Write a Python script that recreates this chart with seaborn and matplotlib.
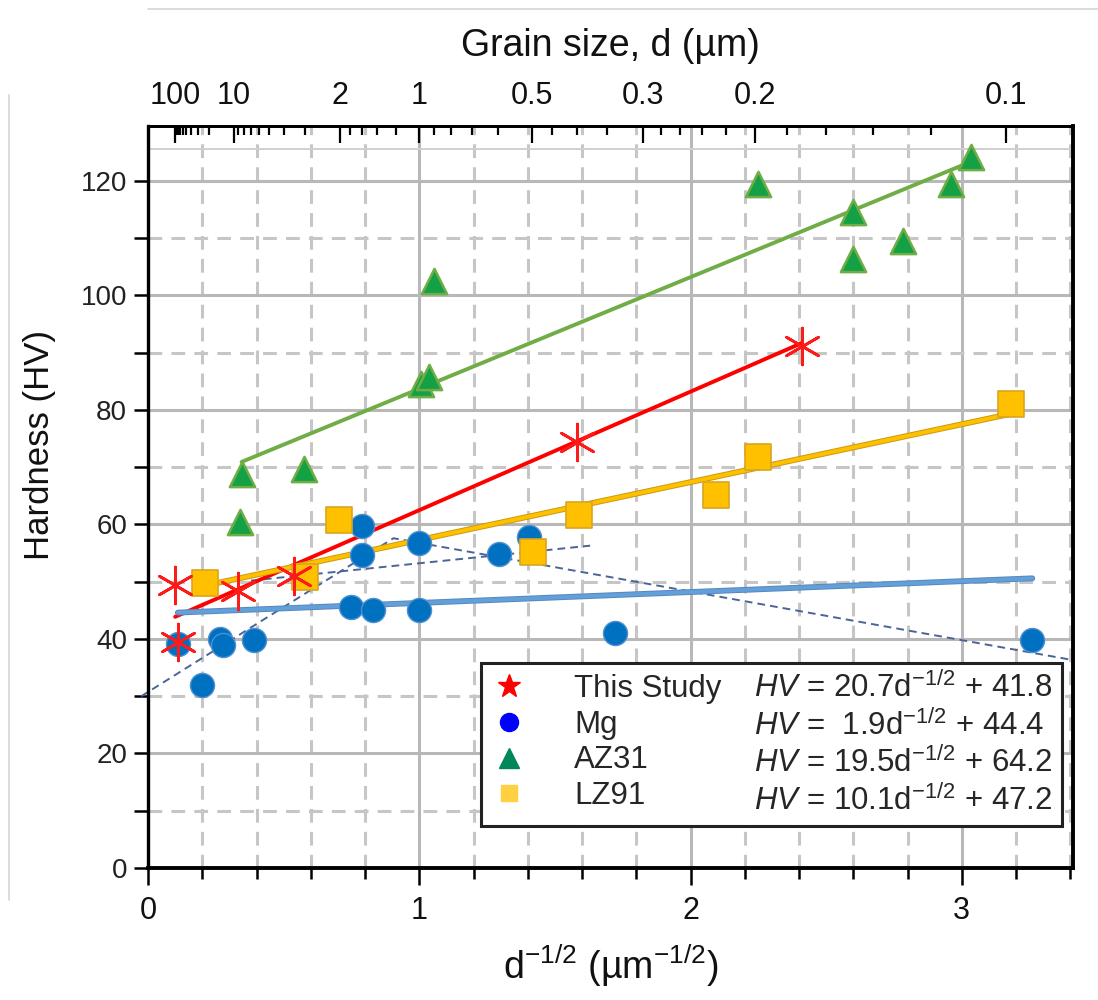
import numpy as np
import pandas as pd
import matplotlib
matplotlib.use("Agg")
import matplotlib.pyplot as plt
import matplotlib.patheffects as pe
from matplotlib.lines import Line2D
from matplotlib.ticker import MultipleLocator, FixedLocator
import seaborn as sns

# ---- data: x = d^-1/2 (um^-1/2), y = Vickers hardness (HV) ----
study_x = [0.10, 0.11, 0.33, 0.54, 1.58, 2.41]
study_y = [49.4, 39.5, 48.4, 51.0, 74.4, 91.1]

mg_x = [0.11, 0.20, 0.265, 0.275, 0.39, 0.75, 0.83, 1.00, 0.79, 0.79, 1.00, 1.295, 1.405, 1.72, 3.26]
mg_y = [39.2, 31.9, 40.0, 38.9, 39.9, 45.6, 45.0, 45.0, 59.8, 54.6, 56.7, 54.8, 57.8, 41.0, 39.8]

az31_x = [0.34, 0.345, 0.575, 1.005, 1.035, 1.055, 2.25, 2.60, 2.60, 2.785, 2.96, 3.035]
az31_y = [60.5, 68.8, 69.7, 84.6, 85.8, 102.6, 119.4, 114.5, 106.3, 109.5, 119.4, 124.2]

lz91_x = [0.21, 0.58, 0.705, 1.42, 1.59, 2.095, 2.25, 3.18]
lz91_y = [49.7, 50.9, 60.8, 55.2, 61.7, 65.1, 71.8, 81.0]

# Hall-Petch fits HV = k d^-1/2 + H0 and the span each fit covers
series_names = ["This Study", "Mg", "AZ31", "LZ91"]
fit_slope = [20.7, 1.9, 19.5, 10.1]
fit_icpt = [41.8, 44.4, 64.2, 47.2]
fit_x0 = [0.10, 0.11, 0.345, 0.21]
fit_x1 = [2.41, 3.26, 3.035, 3.18]

# dashed trend guides
guide_a_x = [-0.025, 0.905, 3.40]
guide_a_y = [30.0, 57.6, 36.4]
guide_b_x = [0.38, 1.63]
guide_b_y = [50.2, 56.3]

# top axis: grain size d (um)
d_major = [100, 10, 2, 1, 0.5, 0.3, 0.2, 0.1]
d_major_labels = ["100", "10", "2", "1", "0.5", "0.3", "0.2", "0.1"]
d_minor = [90, 80, 70, 60, 50, 40, 30, 20, 9, 8, 7, 6, 5, 4, 3,
           1.8, 1.6, 1.4, 1.2, 0.9, 0.8, 0.7, 0.6, 0.45, 0.4, 0.35,
           0.28, 0.26, 0.24, 0.22, 0.18, 0.16, 0.14, 0.12]

# ---- style ----
sns.set_theme(style="white")
plt.rcParams["font.family"] = ["Liberation Sans", "DejaVu Sans"]
plt.rcParams["mathtext.fontset"] = "custom"
plt.rcParams["mathtext.rm"] = "Liberation Sans"
plt.rcParams["mathtext.it"] = "Liberation Sans:italic"
plt.rcParams["mathtext.bf"] = "Liberation Sans:bold"

fig = plt.figure(figsize=(10.98, 10.0), dpi=100)
ax = fig.add_axes([0.1348, 0.132, 0.8424, 0.742])

XMAX, YMAX = 3.41, 129.6
ax.set_xlim(0, XMAX)
ax.set_ylim(0, YMAX)

# grid
ax.set_xticks([0, 1, 2, 3])
ax.xaxis.set_minor_locator(MultipleLocator(0.2))
ax.set_yticks(np.arange(0, 121, 20))
ax.yaxis.set_minor_locator(MultipleLocator(10))
ax.set_axisbelow(True)
ax.grid(which="major", color="#b8b8b8", lw=2.2, ls="-")
ax.grid(which="minor", color="#c6c6c6", lw=2.2, ls=(0, (4.5, 3)))
ax.axhline(125.5, color="#d0d0d0", lw=1.4, zorder=1)

# dashed guides
for gx, gy in ((guide_a_x, guide_a_y), (guide_b_x, guide_b_y)):
    ax.plot(gx, gy, color="#4a6497", lw=1.4, ls=(0, (4, 2.6)), zorder=2, clip_on=False)

# fitted lines
fit_colors = ["#ff0000", "#62a0da", "#70ad47", "#ffc000"]
fit_edges = [None, "#5a86bf", None, "#c99a10"]
for k, b, x0, x1, c, ec in zip(fit_slope, fit_icpt, fit_x0, fit_x1, fit_colors, fit_edges):
    xs = np.array([x0, x1])
    line_df = pd.DataFrame({"x": xs, "y": k * xs + b})
    effects = [pe.Stroke(linewidth=4.2, foreground=ec), pe.Normal()] if ec else None
    sns.lineplot(data=line_df, x="x", y="y", ax=ax, color=c, lw=2.8, zorder=3,
                 path_effects=effects, legend=False)

# data points
sns.scatterplot(x=mg_x, y=mg_y, ax=ax, marker="o", s=300, color="#0070c0",
                edgecolor="#4f8fd0", linewidth=1.0, zorder=4, legend=False)
sns.scatterplot(x=lz91_x, y=lz91_y, ax=ax, marker="s", s=330, color="#ffc000",
                edgecolor="#d9a520", linewidth=1.2, zorder=4, legend=False)
sns.scatterplot(x=az31_x, y=az31_y, ax=ax, marker="^", s=330, color="#14a044",
                edgecolor="#70ad47", linewidth=1.8, zorder=4, legend=False)
ax.scatter(study_x, study_y, marker=(6, 2, 0), s=700, color="#ff1a1a",
           linewidths=2.0, zorder=5)

# axes, ticks, labels
for side in ("left", "bottom", "right", "top"):
    ax.spines[side].set_visible(True)
    ax.spines[side].set_color("black")
ax.spines["left"].set_linewidth(2.4)
ax.spines["bottom"].set_linewidth(2.8)
ax.spines["right"].set_linewidth(2.8)
ax.spines["top"].set_linewidth(2.0)

ax.tick_params(axis="y", which="major", direction="out", length=10, width=1.8,
               labelsize=20, pad=5, left=True, color="black", labelcolor="#222222")
ax.tick_params(axis="y", which="minor", direction="out", length=10, width=1.8, left=True, color="black")
ax.tick_params(axis="x", which="major", direction="out", length=12, width=1.8,
               labelsize=22, pad=8, bottom=True, color="black", labelcolor="#111111")
ax.tick_params(axis="x", which="minor", direction="out", length=8, width=1.8, bottom=True, color="black")

ax.set_xlabel(r"d$^{-1/2}$ (µm$^{-1/2}$)", fontsize=27, labelpad=12, color="#111111")
ax.set_ylabel("Hardness (HV)", fontsize=25, color="#111111")
ax.yaxis.set_label_coords(-0.100, 0.57)

# top axis in grain size
ax2 = ax.twiny()
ax2.set_xlim(ax.get_xlim())
ax2.xaxis.set_major_locator(FixedLocator(np.array(d_major, dtype=float) ** -0.5))
ax2.set_xticklabels(d_major_labels)
ax2.xaxis.set_minor_locator(FixedLocator(np.array(d_minor, dtype=float) ** -0.5))
ax2.tick_params(axis="x", which="major", direction="in", length=12, width=1.6,
                labelsize=22, pad=11, top=True, color="black", labelcolor="#111111")
ax2.tick_params(axis="x", which="minor", direction="in", length=6.5, width=1.6, top=True, color="black")
ax2.set_xlabel("Grain size, d (µm)", fontsize=27, labelpad=18, color="#111111")
for side in ("left", "bottom", "right"):
    ax2.spines[side].set_visible(False)
ax2.spines["top"].set_linewidth(2.0)
ax2.spines["top"].set_color("black")
ax2.grid(False)

# legend: markers + names in one column, fit equations in the next
formulas = [r"$\mathit{HV}$ = 20.7d$^{-1/2}$ + 41.8",
            r"$\mathit{HV}$ =  1.9d$^{-1/2}$ + 44.4",
            r"$\mathit{HV}$ = 19.5d$^{-1/2}$ + 64.2",
            r"$\mathit{HV}$ = 10.1d$^{-1/2}$ + 47.2"]
handles = [
    Line2D([], [], ls="none", marker="*", markersize=17, color="#ff0000"),
    Line2D([], [], ls="none", marker="o", markersize=13, color="#0000ff"),
    Line2D([], [], ls="none", marker="^", markersize=14, color="#00875a"),
    Line2D([], [], ls="none", marker="s", markersize=12, color="#ffd040"),
]
blanks = [Line2D([], [], ls="none") for _ in formulas]
leg = ax.legend(handles=handles + blanks, labels=series_names + formulas, ncol=2,
                loc="lower left", bbox_to_anchor=(0.36, 0.056), fontsize=22.5,
                frameon=True, fancybox=False, framealpha=1, edgecolor="#222222",
                handlelength=1.2, handletextpad=1.48, columnspacing=-1.65,
                labelspacing=0.18, borderpad=0.3, borderaxespad=0)
leg.get_frame().set_linewidth(2.2)
leg.set_zorder(6)

# faint page border lines
fig.add_artist(Line2D([0.135, 1.0], [0.991, 0.991], color="#d6d6d6", lw=1.2, transform=fig.transFigure))
fig.add_artist(Line2D([0.008, 0.008], [0.10, 0.905], color="#d6d6d6", lw=1.2, transform=fig.transFigure))

fig.savefig("out.png", dpi=100)
